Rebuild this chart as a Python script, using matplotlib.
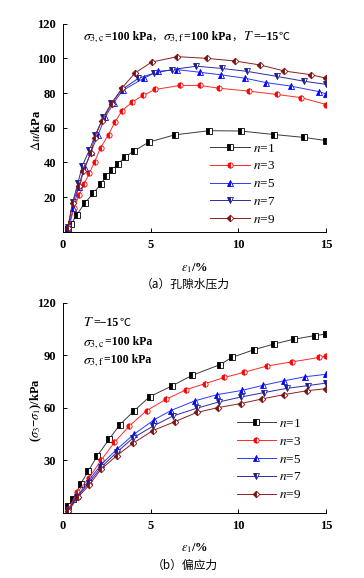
import matplotlib
matplotlib.use('Agg')
import matplotlib.pyplot as plt
from matplotlib.offsetbox import TextArea, HPacker, AnchoredOffsetbox

plt.rcParams['font.family'] = ['Liberation Serif', 'Noto Sans CJK SC']
plt.rcParams['mathtext.fontset'] = 'stix'

labels = ['$n$=1', '$n$=3', '$n$=5', '$n$=7', '$n$=9']
colors = ['#3a3a3a', '#ff2a2a', '#2a3aff', '#2a2aa8', '#8e1e1e']
edge = ['#000000', '#ff0000', '#0000ff', '#1a1a90', '#7a1010']
markers = ['s', 'o', '^', 'v', 'D']

# (a) pore water pressure
a_x1 = [0.3, 0.46, 0.78, 1.24, 1.73, 2.15, 2.45, 2.8, 3.14, 3.52, 4.05, 4.89, 6.37, 8.35, 10.13, 12.03, 13.75, 15]
a_y1 = [1.4, 4.3, 9.7, 16.5, 22.3, 27.3, 31.9, 35.4, 39.1, 43.0, 46.6, 51.7, 55.9, 58.3, 58.1, 56.1, 54.4, 52.6]
a_x3 = [0.3, 0.63, 0.93, 1.2, 1.5, 1.8, 2.15, 2.6, 2.95, 3.37, 3.94, 4.55, 5.27, 6.68, 7.8, 8.88, 10.59, 12.18, 13.55, 15]
a_y3 = [0.8, 13.9, 21.3, 27.5, 33.7, 40.3, 48.6, 56.1, 63.1, 69.9, 74.7, 78.6, 82.1, 84.4, 84.4, 82.8, 81.1, 79.2, 77.4, 73.4]
a_x5 = [0.3, 0.6, 0.9, 1.25, 1.6, 2.0, 2.4, 2.9, 3.4, 4.6, 5.4, 6.5, 7.8, 9.0, 10.4, 11.6, 13.0, 14.6, 15]
a_y5 = [2.0, 14.0, 26.0, 37.0, 46.0, 56.0, 66.0, 74.5, 81.5, 88.5, 92.5, 93.5, 92.0, 90.5, 88.5, 86.0, 84.0, 80.8, 79.5]
a_x7 = [0.3, 0.55, 0.85, 1.1, 1.5, 1.85, 2.3, 2.75, 3.35, 4.3, 5.2, 6.2, 7.6, 9.05, 10.5, 12.2, 13.75, 15]
a_y7 = [3.0, 17.0, 28.0, 38.0, 47.0, 56.0, 66.0, 74.0, 82.0, 88.5, 91.5, 93.5, 95.5, 94.2, 92.5, 89.6, 86.8, 85.0]
a_x9 = [0.27, 0.55, 0.9, 1.16, 1.58, 1.8, 2.22, 2.78, 3.37, 4.1, 5.06, 6.52, 8.23, 9.79, 11.24, 12.62, 14.12, 15]
a_y9 = [2.3, 16.6, 26.3, 35.2, 45.3, 54.2, 64.1, 73.9, 83.0, 91.5, 97.9, 101.0, 100.0, 98.5, 96.2, 92.7, 90.6, 88.6]

# (b) deviator stress
b_x1 = [0.3, 0.59, 1.0, 1.43, 1.96, 2.62, 3.25, 4.07, 4.94, 6.2, 7.36, 8.97, 9.62, 10.9, 12.03, 13.14, 14.35, 15]
b_y1 = [3.8, 8.1, 16.5, 23.7, 32.7, 42.0, 50.5, 58.5, 66.4, 72.5, 78.6, 84.8, 88.8, 93.3, 96.5, 99.2, 101.3, 102.2]
b_x3 = [0.3, 0.82, 1.46, 2.17, 2.93, 3.75, 4.77, 5.87, 7.02, 8.08, 9.2, 10.34, 11.65, 13.06, 14.58, 15]
b_y3 = [2.0, 11.9, 19.7, 30.1, 40.3, 49.4, 58.5, 64.9, 70.4, 73.8, 77.4, 80.4, 84.0, 86.3, 88.8, 89.6]
b_x5 = [0.3, 0.8, 1.46, 2.19, 3.06, 4.05, 5.19, 6.15, 7.5, 8.8, 10.2, 11.4, 12.6, 13.8, 15]
b_y5 = [1.5, 9.5, 18.5, 27.8, 36.3, 45.0, 53.2, 58.5, 64.0, 67.6, 70.0, 72.9, 75.5, 77.8, 79.2]
b_x7 = [0.3, 0.8, 1.48, 2.18, 3.06, 4.0, 5.15, 6.27, 7.62, 8.88, 10.13, 11.43, 12.76, 13.94, 15]
b_y7 = [1.2, 9.0, 17.3, 26.2, 34.6, 42.9, 49.7, 55.4, 59.8, 63.4, 66.2, 68.7, 71.2, 72.7, 74.2]
b_x9 = [0.3, 0.85, 1.5, 2.17, 3.06, 3.97, 5.13, 6.37, 7.62, 8.85, 10.13, 11.33, 12.6, 13.89, 15]
b_y9 = [1.0, 9.0, 16.0, 25.0, 32.7, 39.7, 47.1, 52.1, 57.4, 60.2, 62.5, 65.1, 67.6, 69.8, 71.0]

a_data = [(a_x1, a_y1), (a_x3, a_y3), (a_x5, a_y5), (a_x7, a_y7), (a_x9, a_y9)]
b_data = [(b_x1, b_y1), (b_x3, b_y3), (b_x5, b_y5), (b_x7, b_y7), (b_x9, b_y9)]

fig = plt.figure(figsize=(3.64, 5.78), dpi=100)
ax1 = fig.add_axes([0.173, 0.599, 0.723, 0.360])
ax2 = fig.add_axes([0.173, 0.1125, 0.723, 0.3635])

tickfont = {'family': 'Liberation Serif', 'weight': 'bold', 'size': 9}


def draw(ax, data, yticks, legend_anchor):
    for (x, y), lab, c, ec, m in zip(data, labels, colors, edge, markers):
        ms = 3.8 if m != 'D' else 3.4
        ax.plot(x, y, color=c, lw=0.7, marker=m, ms=ms, fillstyle='left',
                markerfacecolor=ec, markerfacecoloralt='white',
                markeredgecolor=ec, markeredgewidth=0.6, label=lab)
    ax.set_xlim(0, 15)
    ax.set_ylim(0, 120)
    ax.set_xticks([0, 5, 10, 15])
    ax.set_yticks(yticks)
    for s in ['top', 'right']:
        ax.spines[s].set_visible(False)
    for s in ['left', 'bottom']:
        ax.spines[s].set_linewidth(0.7)
    ax.tick_params(direction='in', length=3, width=0.7, pad=5)
    for t in ax.get_xticklabels() + ax.get_yticklabels():
        t.set_fontproperties(tickfont)
    leg = ax.legend(loc='upper left', bbox_to_anchor=legend_anchor, frameon=False,
                    fontsize=9.5, handlelength=3.0, handletextpad=0.2,
                    labelspacing=0.42, borderaxespad=0)
    return leg


draw(ax1, a_data, [20, 40, 60, 80, 100, 120], (0.54, 0.455))
draw(ax2, b_data, [30, 60, 90, 120], (0.64, 0.478))

mfont = {'family': 'Liberation Serif', 'weight': 'bold', 'size': 8.5}
sfont = {'family': 'Liberation Serif', 'size': 10}
cfont = {'family': 'Noto Sans CJK SC', 'size': 8}


def packed(parts):
    boxes = []
    for txt, kind in parts:
        props = {'c': cfont, 's': sfont}.get(kind, mfont)
        boxes.append(TextArea(txt, textprops=props))
    return HPacker(children=boxes, align='baseline', pad=0, sep=0)


# annotation (a)
ann_a = packed([(r'$\sigma_{3,\mathrm{c}}$', 's'), ('=100 kPa', 'm'), ('，', 'c'),
                (r'$\sigma_{3,\mathrm{f}}$', 's'), ('=100 kPa', 'm'), ('，', 'c'),
                (r'$T$', 's'), ('=−15', 'm'), ('℃', 'c')])
box = AnchoredOffsetbox(loc='center left', child=ann_a, frameon=False,
                        bbox_to_anchor=(83 / 364, 1 - 37.5 / 578),
                        bbox_transform=fig.transFigure, pad=0, borderpad=0)
fig.add_artist(box)

# annotation (b)
for y_px, parts in [(323, [(r'$T$', 's'), ('=−15', 'm'), ('℃', 'c')]),
                    (343, [(r'$\sigma_{3,\mathrm{c}}$', 's'), ('=100 kPa', 'm')]),
                    (361, [(r'$\sigma_{3,\mathrm{f}}$', 's'), ('=100 kPa', 'm')])]:
    box = AnchoredOffsetbox(loc='center left', child=packed(parts), frameon=False,
                            bbox_to_anchor=(83 / 364, 1 - y_px / 578),
                            bbox_transform=fig.transFigure, pad=0, borderpad=0)
    fig.add_artist(box)

lab_font = {'family': 'Liberation Serif', 'weight': 'bold', 'size': 9}
fig.text(36 / 364, 1 - 130 / 578, r'$\Delta u$/kPa', rotation=90, ha='center', va='center', fontdict=lab_font)
fig.text(36 / 364, 1 - 410 / 578, r'($\sigma_3$−$\sigma_1$)/kPa', rotation=90, ha='center', va='center', fontdict=lab_font)
fig.text(195 / 364, 1 - 268 / 578, r'$\varepsilon_1$/%', ha='center', va='center', fontdict=lab_font)
fig.text(195 / 364, 1 - 548 / 578, r'$\varepsilon_1$/%', ha='center', va='center', fontdict=lab_font)

fig.text(185 / 364, 1 - 284 / 578, '（a）孔隙水压力', ha='center', va='center',
         family=['Noto Sans CJK SC'], size=8.5)
fig.text(185 / 364, 1 - 565 / 578, '（b）偏应力', ha='center', va='center',
         family=['Noto Sans CJK SC'], size=8.5)

fig.savefig('out.png', dpi=100)
